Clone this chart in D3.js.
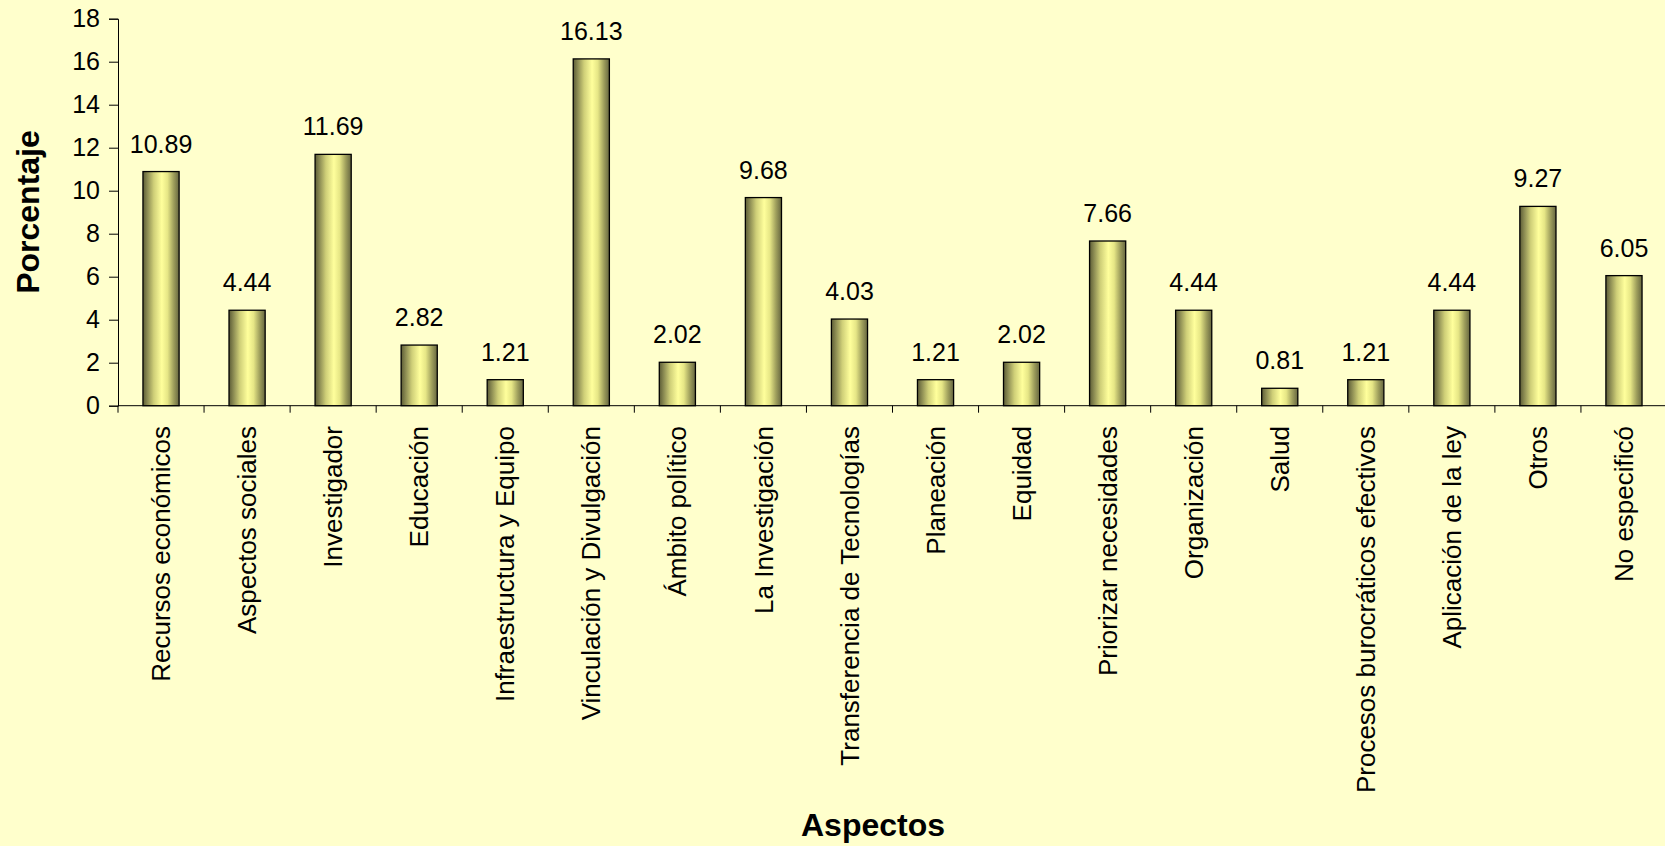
<!DOCTYPE html>
<html>
<head>
<meta charset="utf-8">
<script src="https://cdn.jsdelivr.net/npm/d3@7"></script>
<style>
  body { margin: 0; background: #ffffcc; }
  svg { display: block; font-family: "Liberation Sans", Arial, sans-serif; }
</style>
</head>
<body>
<script>
// datos
const categorias = ["Recursos económicos", "Aspectos sociales", "Investigador", "Educación",
    "Infraestructura y Equipo", "Vinculación y Divulgación", "Ámbito político", "La Investigación",
    "Transferencia de Tecnologías", "Planeación", "Equidad", "Priorizar necesidades", "Organización",
    "Salud", "Procesos burocráticos efectivos", "Aplicación de la ley", "Otros", "No especificó"];
const porcentajes = [10.89, 4.44, 11.69, 2.82, 1.21, 16.13, 2.02, 9.68, 4.03, 1.21, 2.02, 7.66, 4.44, 0.81, 1.21, 4.44, 9.27, 6.05];
const ticksY = [0, 2, 4, 6, 8, 10, 12, 14, 16, 18];

function main() {
    const W = 1665, H = 846;
    const svg = d3.select("body").append("svg")
        .attr("width", W)
        .attr("height", H)
        .style("background-color", "#ffffcc");

    const x = d3.scaleBand().domain(categorias).range([118, 1667]).paddingInner(0.58).paddingOuter(0.29);
    const y = d3.scaleLinear().domain([0, 18]).range([405.7, 18.7]);

    // degradado de las barras
    const grad = svg.append("defs").append("linearGradient")
        .attr("id", "barra").attr("x1", "0%").attr("x2", "100%").attr("y1", "0%").attr("y2", "0%");
    [[0, "#5c5c36"], [0.12, "#8a8a52"], [0.3, "#cfcf78"], [0.52, "#ffff9c"], [0.68, "#e6e686"], [0.85, "#9e9e5c"], [1, "#666640"]]
        .forEach(s => grad.append("stop").attr("offset", s[0]).attr("stop-color", s[1]));

    // eje y
    const ejeY = svg.append("g").attr("transform", "translate(118,0)")
        .call(d3.axisLeft(y).tickValues(ticksY).tickSize(9).tickPadding(9));
    ejeY.selectAll("text").style("font-size", "25px").attr("fill", "#000");
    ejeY.selectAll("line").attr("stroke", "#000");
    ejeY.select(".domain").attr("stroke", "#000");

    // eje x (marcas entre categorias)
    const ejeX = svg.append("g").attr("transform", "translate(0," + y(0) + ")");
    ejeX.append("line").attr("x1", 118).attr("x2", 1667).attr("stroke", "#000");
    ejeX.selectAll(".marca").data(d3.range(categorias.length + 1)).enter()
        .append("line").attr("class", "marca")
        .attr("x1", i => 118 + i * x.step()).attr("x2", i => 118 + i * x.step())
        .attr("y1", 0).attr("y2", 7).attr("stroke", "#000");

    svg.selectAll(".barra")
        .data(porcentajes)
        .enter()
        .append("rect")
        .attr("class", "barra")
        .attr("x", (d, i) => x(categorias[i]))
        .attr("width", x.bandwidth())
        .attr("y", d => y(d))
        .attr("height", d => y(0) - y(d))
        .attr("fill", "url(#barra)")
        .attr("stroke", "#000")
        .attr("stroke-width", 1.3);

    svg.selectAll(".valor")
        .data(porcentajes)
        .enter()
        .append("text")
        .attr("class", "valor")
        .attr("x", (d, i) => x(categorias[i]) + x.bandwidth() / 2)
        .attr("y", d => y(d) - 19)
        .attr("text-anchor", "middle")
        .style("font-size", "25px")
        .text(d => d.toFixed(2));

    svg.selectAll(".cat")
        .data(categorias)
        .enter()
        .append("text")
        .attr("class", "cat")
        .attr("transform", d => "translate(" + (x(d) + x.bandwidth() / 2) + ",426) rotate(-90)")
        .attr("dy", "0.35em")
        .attr("text-anchor", "end")
        .style("font-size", "26px")
        .text(d => d);

    svg.append("text")
        .attr("transform", "translate(39,212) rotate(-90)")
        .attr("text-anchor", "middle")
        .style("font-size", "32px")
        .style("font-weight", "bold")
        .text("Porcentaje");

    svg.append("text")
        .attr("x", 873)
        .attr("y", 836)
        .attr("text-anchor", "middle")
        .style("font-size", "32px")
        .style("font-weight", "bold")
        .text("Aspectos");
}
main();
</script>
</body>
</html>
